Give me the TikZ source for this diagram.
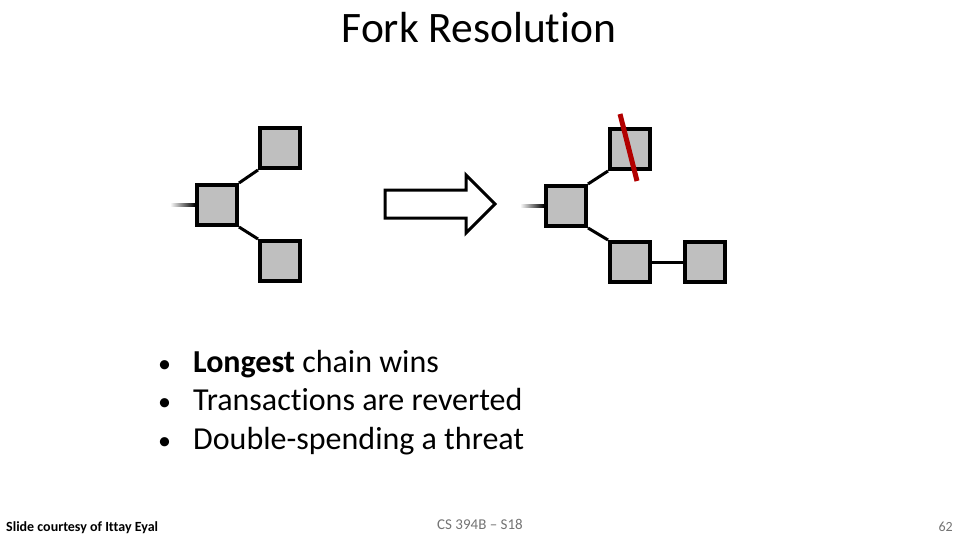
\documentclass[tikz,border=0pt]{standalone}
\usepackage{fontspec}
\setmainfont[Ligatures=NoCommon]{Carlito}
\usetikzlibrary{calc,shapes.arrows}

\begin{document}
\begin{tikzpicture}[x=1pt,y=-1pt,
        block/.style={rectangle,draw=black,fill=black!25,line width=4pt,minimum size=40pt,inner sep=0pt},
        link/.style={line width=3pt},
        bullet/.style={anchor=base west,inner sep=0pt,font=\fontsize{32}{38}\selectfont}]
    \useasboundingbox (0,0) rectangle (960,540);

    % Title
    \node[font=\fontsize{43.5}{50}\selectfont] (title) at (479,28) {Fork Resolution};

    % Left fork
    \coordinate (tailL) at (170,205);
    \node[block] (cL) at (217,205) {};
    \node[block] (upL) at (280,148) {};
    \node[block] (dnL) at (280,261) {};

    % Transition arrow
    \node[single arrow,draw=black,line width=3pt,fill=white,inner xsep=0pt,inner ysep=12.5pt,
          single arrow head extend=15pt,minimum height=110pt,anchor=tail] (go) at (383.5,204) {};

    % Right fork
    \coordinate (tailR) at (520,206);
    \node[block] (cR) at (566,206) {};
    \node[block] (upR) at (630,149) {};
    \node[block] (dnR) at (630,262) {};
    \node[block] (nxR) at (705,262) {};

    % Edges of left fork
    \shade[left color=white,right color=black] ($(tailL)+(0,-1.2)$) rectangle ($(cL.west)+(0,1.2)$);
    \draw[link] (cL.north east) -- (upL.south west);
    \draw[link] (cL.south east) -- (dnL.north west);

    % Edges of right fork
    \shade[left color=white,right color=black] ($(tailR)+(0,-1.2)$) rectangle ($(cR.west)+(0,1.2)$);
    \draw[link] (cR.north east) -- (upR.south west);
    \draw[link] (cR.south east) -- (dnR.north west);
    \draw[link] (dnR.east) -- (nxR.west);

    % Orphaned block struck out
    \coordinate (cutA) at (620,114);
    \coordinate (cutB) at (637,181);
    \draw[line width=5pt,color=red!70!black] (cutA) -- (cutB);

    % Bullets
    \node[bullet,font=\fontsize{26}{30}\selectfont] (b1) at (158,372) {\textbullet};
    \node[bullet] (t1) at (193,372) {\textbf{Longest} chain wins};
    \node[bullet,font=\fontsize{26}{30}\selectfont] (b2) at (158,410) {\textbullet};
    \node[bullet] (t2) at (193,410) {Transactions are reverted};
    \node[bullet,font=\fontsize{26}{30}\selectfont] (b3) at (158,449) {\textbullet};
    \node[bullet] (t3) at (193,449) {Double-spending a threat};

    % Footer
    \node[anchor=base west,inner sep=0pt,font=\fontsize{14}{16}\selectfont\bfseries] (credit) at (6,531) {Slide courtesy of Ittay Eyal};
    \node[anchor=base,inner sep=0pt,text=black!55,font=\fontsize{15}{18}\selectfont] (course) at (480,529) {CS 394B -- S18};
    \node[anchor=base east,inner sep=0pt,text=black!55,font=\fontsize{14}{16}\selectfont] (page) at (953,531) {62};
\end{tikzpicture}
\end{document}
